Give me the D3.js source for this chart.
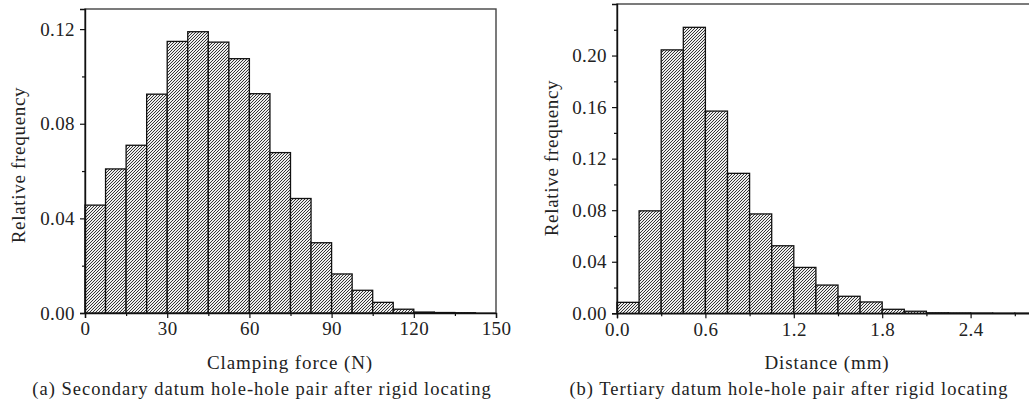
<!DOCTYPE html>
<html><head><meta charset="utf-8">
<script src="https://cdn.jsdelivr.net/npm/d3@7"></script>
<style>
body{margin:0;background:#fff;}
svg{display:block;}
text{font-family:"Liberation Serif","DejaVu Serif",serif;fill:#222;}
</style></head>
<body>
<svg id="c" width="1029" height="417"></svg>
<script>
// ---- data ----
const forceBinWidth = 7.5;
const forceBinStarts = [0,7.5,15,22.5,30,37.5,45,52.5,60,67.5,75,82.5,90,97.5,105,112.5,120,127.5,135,142.5];
const forceFreq = [0.0456,0.0609,0.0709,0.0925,0.1148,0.1189,0.1145,0.1075,0.0927,0.0678,0.0484,0.0297,0.0165,0.0096,0.0045,0.0016,0.0004,0.0002,0.0001,0.0];
const forceTicks = [0,30,60,90,120,150];
const forceMinor = [15,45,75,105,135];
const forceYTicks = [0,0.04,0.08,0.12];
const forceYMinor = [0.02,0.06,0.10];

const distBinWidth = 0.15;
const distBinStarts = [0,0.15,0.3,0.45,0.6,0.75,0.9,1.05,1.2,1.35,1.5,1.65,1.8,1.95,2.1,2.25,2.4,2.55,2.7,2.85];
const distFreq = [0.0085,0.0795,0.2044,0.2219,0.1569,0.1086,0.0771,0.0524,0.0356,0.0219,0.0132,0.0088,0.0031,0.0016,0.0004,0.0003,0.0002,0.0001,0.0001,0.0];
const distTicks = [0,0.6,1.2,1.8,2.4];
const distMinor = [0.3,0.9,1.5,2.1,2.7];
const distYTicks = [0,0.04,0.08,0.12,0.16,0.20];
const distYMinor = [0.02,0.06,0.10,0.14,0.18,0.22];

const svg = d3.select("#c");
const defs = svg.append("defs");
const pat = defs.append("pattern").attr("id","hatch").attr("patternUnits","userSpaceOnUse")
  .attr("width",3).attr("height",3);
pat.append("rect").attr("width",3).attr("height",3).attr("fill","#ededed");
pat.append("path").attr("d","M-1,1 L1,-1 M0,3 L3,0 M2,4 L4,2").attr("stroke","#2a2a2a").attr("stroke-width",0.95);

function panel(cfg){
  const g = svg.append("g");
  const x = d3.scaleLinear().domain(cfg.xdom).range(cfg.xr);
  const y = d3.scaleLinear().domain(cfg.ydom).range(cfg.yr);
  // frame
  g.append("rect").attr("x",cfg.xr[0]).attr("y",cfg.yr[1])
    .attr("width",cfg.xr[1]-cfg.xr[0]).attr("height",cfg.yr[0]-cfg.yr[1])
    .attr("fill","none").attr("stroke","#444").attr("stroke-width",1.4);
  // bars
  g.selectAll("rect.bar").data(cfg.starts).join("rect").attr("class","bar")
    .attr("x",d=>x(d)).attr("width",d=>x(d+cfg.bw)-x(d))
    .attr("y",(d,i)=>y(cfg.vals[i])).attr("height",(d,i)=>y(0)-y(cfg.vals[i]))
    .attr("fill","url(#hatch)").attr("stroke","#111").attr("stroke-width",1.3);
  // axes
  g.append("g").attr("transform",`translate(0,${cfg.yr[0]})`)
    .call(d3.axisBottom(x).tickValues(cfg.xt).tickFormat(cfg.xf).tickSize(5).tickPadding(4));
  g.append("g").attr("transform",`translate(0,${cfg.yr[0]})`)
    .call(d3.axisBottom(x).tickValues(cfg.xm).tickFormat("").tickSize(3)).select(".domain").remove();
  g.append("g").attr("transform",`translate(${cfg.xr[0]},0)`)
    .call(d3.axisLeft(y).tickValues(cfg.yt).tickFormat(d3.format(".2f")).tickSize(5).tickPadding(5));
  g.append("g").attr("transform",`translate(${cfg.xr[0]},0)`)
    .call(d3.axisLeft(y).tickValues(cfg.ym).tickFormat("").tickSize(3)).select(".domain").remove();
  g.selectAll(".domain").attr("stroke","#111").attr("stroke-width",1.4);
  g.selectAll(".tick line").attr("stroke","#111").attr("stroke-width",1.2);
  g.selectAll(".tick text").style("font-family",'"Liberation Serif",serif').style("font-size","19px")
    .style("letter-spacing","0.4px").attr("fill","#222");
  // titles
  g.append("text").attr("transform",`translate(${cfg.ylx},${cfg.yly}) rotate(-90)`)
    .attr("text-anchor","middle").style("font-size","19px").style("letter-spacing","0.7px").text("Relative frequency");
  g.append("text").attr("x",cfg.xlx).attr("y",369).attr("text-anchor","middle")
    .style("font-size","19px").style("letter-spacing","0.9px").text(cfg.xlabel);
  g.append("text").attr("x",cfg.capx).attr("y",395).attr("text-anchor","middle")
    .style("font-size","18.5px").style("letter-spacing","1px").text(cfg.caption);
}

panel({xdom:[0,150], xr:[85,496], ydom:[0,0.1285], yr:[313,9], starts:forceBinStarts, bw:forceBinWidth, vals:forceFreq,
  xt:forceTicks, xm:forceMinor, xf:d3.format("d"), yt:forceYTicks, ym:forceYMinor,
  ylx:25, yly:165, xlx:290, xlabel:"Clamping force (N)", capx:262,
  caption:"(a) Secondary datum hole-hole pair after rigid locating"});

panel({xdom:[0,3], xr:[617,1059], ydom:[0,0.24], yr:[313.3,4], starts:distBinStarts, bw:distBinWidth, vals:distFreq,
  xt:distTicks, xm:distMinor, xf:d3.format(".1f"), yt:distYTicks, ym:distYMinor,
  ylx:558, yly:158, xlx:827, xlabel:"Distance (mm)", capx:789,
  caption:"(b) Tertiary datum hole-hole pair after rigid locating"});
</script>
</body></html>
